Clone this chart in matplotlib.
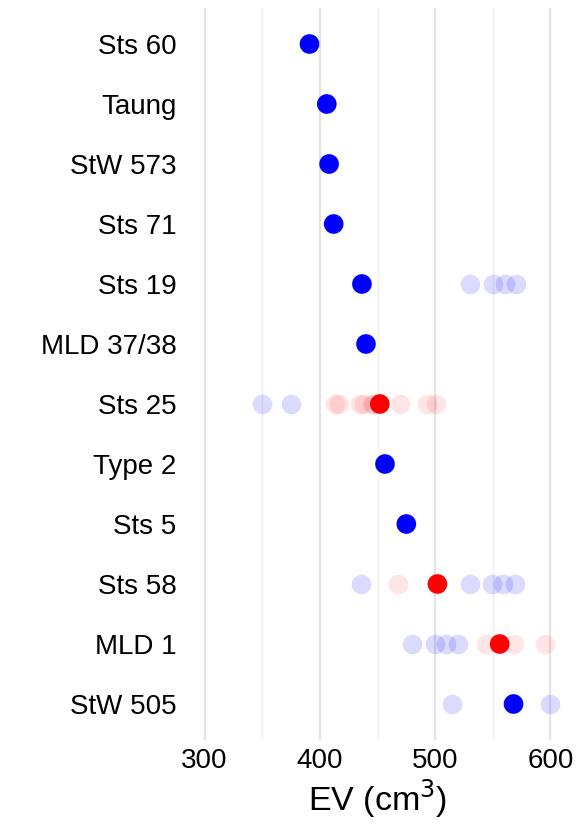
import matplotlib
matplotlib.use("Agg")
import matplotlib.pyplot as plt

plt.rcParams['font.family'] = ['Liberation Sans', 'DejaVu Sans']

specimens = ["Sts 60", "Taung", "StW 573", "Sts 71", "Sts 19", "MLD 37/38",
             "Sts 25", "Type 2", "Sts 5", "Sts 58", "MLD 1", "StW 505"]
main_ev = [391, 406, 408, 412, 436.5, 440, 452, 456.5, 475, 502, 556, 568]
main_group = ["blue", "blue", "blue", "blue", "blue", "blue",
              "red", "blue", "blue", "red", "red", "blue"]

# faint alternative estimates per specimen
faint_blue = {
    "Sts 19": [530, 550, 560.5, 570],
    "Sts 25": [350, 375],
    "Sts 58": [436, 530, 549, 559, 569.5],
    "MLD 1": [480, 499.5, 509.5, 520],
    "StW 505": [515, 599.5],
}
faint_red = {
    "Sts 25": [413.5, 417, 435, 438, 445, 447, 469.5, 493, 501],
    "Sts 58": [468],
    "MLD 1": [544, 568, 595],
}

xticks = [300, 400, 500, 600]

fig = plt.figure(figsize=(5.76, 8.32), dpi=100)
ax = fig.add_axes([185/576, 92/832, 385/576, 732/832])

ypos = {s: i for i, s in enumerate(specimens)}
colors = {"blue": "#0000FF", "red": "#FF0000"}

for s, vals in faint_blue.items():
    ax.scatter(vals, [ypos[s]] * len(vals), s=200, color="#0000FF", alpha=0.14,
               linewidths=0, zorder=2)
for s, vals in faint_red.items():
    ax.scatter(vals, [ypos[s]] * len(vals), s=200, color="#FF0000", alpha=0.1,
               linewidths=0, zorder=2)

ax.scatter(main_ev, [ypos[s] for s in specimens], s=200,
           color=[colors[g] for g in main_group], linewidths=0, zorder=3)

ax.set_xlim(283, 617)
ax.set_ylim(len(specimens) - 1 + 0.6, -0.6)
ax.set_yticks(range(len(specimens)))
ax.set_yticklabels(specimens, fontsize=20)
ax.set_xticks(xticks)
ax.set_xticklabels([str(t) for t in xticks], fontsize=20)
ax.set_xticks([350, 450, 550], minor=True)
ax.tick_params(axis='both', which='both', length=0)
ax.tick_params(axis='x', pad=6)
ax.tick_params(axis='y', pad=6)
ax.grid(axis='x', which='major', color='#E4E4E4', linewidth=1.6)
ax.grid(axis='x', which='minor', color='#EFEFEF', linewidth=1.0)
ax.set_axisbelow(True)
for sp in ax.spines.values():
    sp.set_visible(False)
ax.set_xlabel("EV (cm$^3$)", fontsize=24.5, labelpad=2)

fig.savefig("out.png", dpi=100)
